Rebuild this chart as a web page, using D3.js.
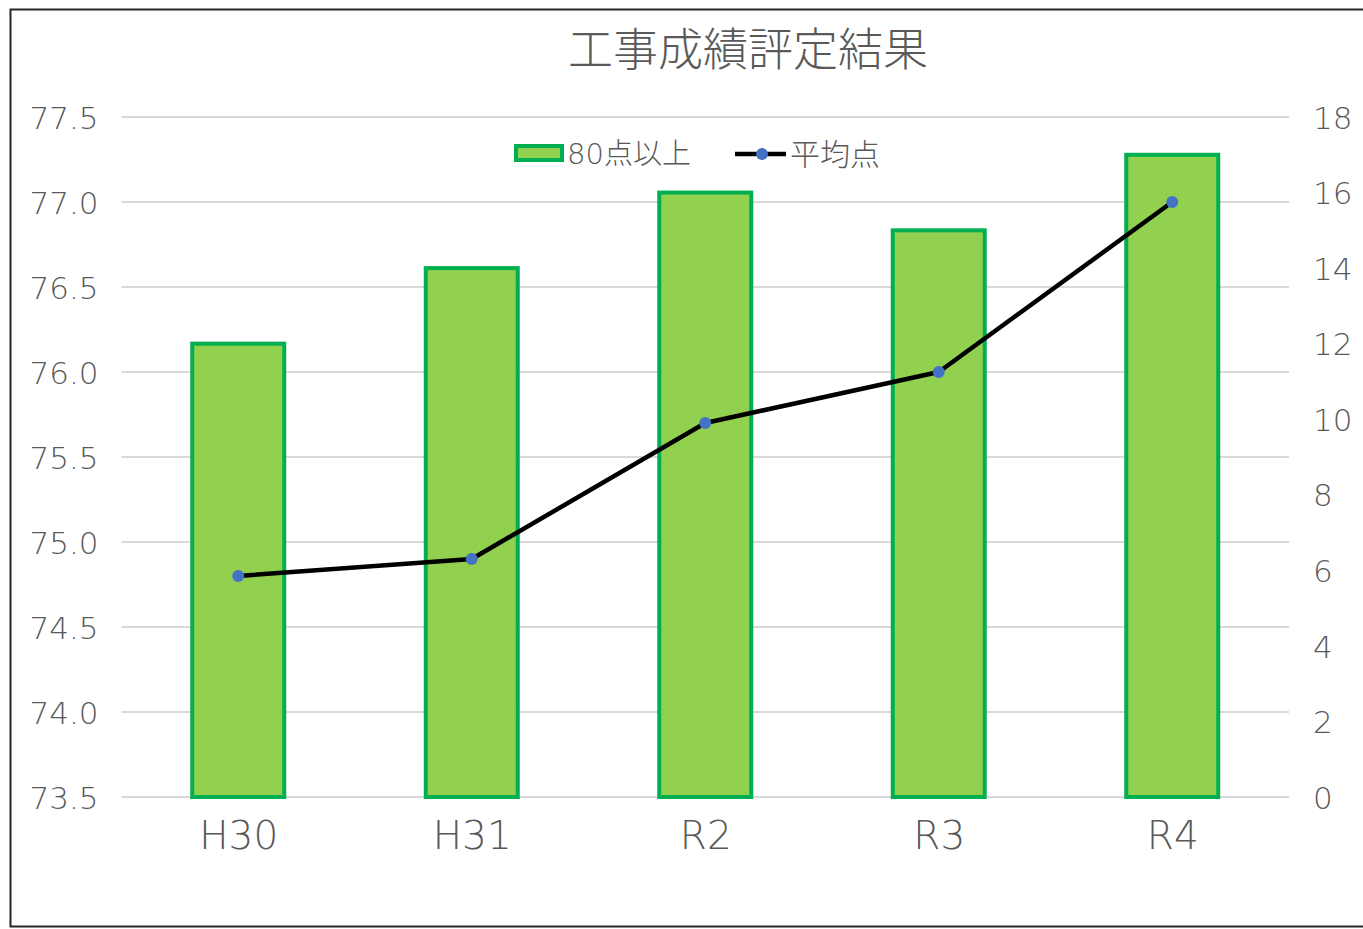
<!DOCTYPE html>
<html>
<head>
<meta charset="utf-8">
<script src="https://cdn.jsdelivr.net/npm/d3@7"></script>
<style>
  body { margin: 0; background: #fff; }
  text { font-family: "DejaVu Sans", "Noto Sans CJK JP", sans-serif; fill: #595959; }
</style>
</head>
<body>
<div id="chart-area"></div>
<script>
// data
const categories = ["H30", "H31", "R2", "R3", "R4"]
const over80 = [12, 14, 16, 15, 17]          // 80点以上 (right axis)
const average = [74.8, 74.9, 75.7, 76.0, 77.0] // 平均点 (left axis)
const leftTicks = [73.5, 74.0, 74.5, 75.0, 75.5, 76.0, 76.5, 77.0, 77.5]
const rightTicks = [0, 2, 4, 6, 8, 10, 12, 14, 16, 18]

const W = 1363, H = 929
const PLOT = { LEFT: 121.5, RIGHT: 1289, TOP: 117, BOTTOM: 797 }

const svg = d3.select("#chart-area").append("svg")
	.attr("width", W)
	.attr("height", H)

// chart frame
svg.append("rect")
	.attr("x", 10.5).attr("y", 9.5)
	.attr("width", 1370).attr("height", 917)
	.attr("fill", "#fff")
	.attr("stroke", "#262626")
	.attr("stroke-width", 2)

// scales
const xc = d3.scalePoint().domain(categories).range([PLOT.LEFT, PLOT.RIGHT]).padding(0.5)
const yL = d3.scaleLinear().domain([73.5, 77.5]).range([PLOT.BOTTOM, PLOT.TOP])
const yR = d3.scaleLinear().domain([0, 18]).range([PLOT.BOTTOM, PLOT.TOP])

// gridlines
svg.append("g")
	.selectAll("line")
	.data(leftTicks)
	.join("line")
	.attr("x1", PLOT.LEFT).attr("x2", PLOT.RIGHT)
	.attr("y1", d => yL(d)).attr("y2", d => yL(d))
	.attr("stroke", "#d9d9d9")
	.attr("stroke-width", 2)

// axes
const leftAxis = svg.append("g")
	.attr("transform", `translate(${PLOT.LEFT - 23}, 0)`)
	.call(d3.axisLeft(yL).tickValues(leftTicks).tickFormat(d3.format(".1f")).tickSize(0))
const rightAxis = svg.append("g")
	.attr("transform", `translate(${PLOT.RIGHT + 24}, 0)`)
	.call(d3.axisRight(yR).tickValues(rightTicks).tickSize(0))
const bottomAxis = svg.append("g")
	.attr("transform", `translate(0, ${PLOT.BOTTOM})`)
	.call(d3.axisBottom(xc).tickSize(0))

;[leftAxis, rightAxis, bottomAxis].forEach(a => {
	a.select(".domain").remove()
	a.selectAll("text")
		.attr("font-size", "31px")
		.attr("font-family", "\"DejaVu Sans\", sans-serif")
		.attr("font-weight", 300)
		.attr("fill", "#595959")
		.attr("dy", "0.36em")
})
leftAxis.selectAll("text").attr("x", 0)
rightAxis.selectAll("text").attr("x", 0)
bottomAxis.selectAll("text").attr("y", 38).attr("font-size", "39px")

// bars
const barW = 92
svg.append("g")
	.selectAll("rect")
	.data(categories)
	.join("rect")
	.attr("x", d => xc(d) - barW / 2)
	.attr("y", (d, i) => yR(over80[i]))
	.attr("width", barW)
	.attr("height", (d, i) => yR(0) - yR(over80[i]))
	.attr("fill", "#92d050")
	.attr("stroke", "#00b050")
	.attr("stroke-width", 4)

// line
const line = d3.line()
	.x((d, i) => xc(categories[i]))
	.y(d => yL(d))
svg.append("path")
	.attr("d", line(average))
	.attr("fill", "none")
	.attr("stroke", "#000")
	.attr("stroke-width", 4.5)
	.attr("stroke-linejoin", "round")
svg.append("g")
	.selectAll("circle")
	.data(average)
	.join("circle")
	.attr("cx", (d, i) => xc(categories[i]))
	.attr("cy", d => yL(d))
	.attr("r", 6)
	.attr("fill", "#4472c4")

// title
svg.append("text")
	.attr("x", 748)
	.attr("y", 54)
	.attr("text-anchor", "middle")
	.attr("dominant-baseline", "middle")
	.attr("font-family", "\"Noto Sans CJK JP\", sans-serif")
	.attr("font-size", "45px")
	.attr("font-weight", 300)
	.text("工事成績評定結果")

// legend
const lg = svg.append("g")
lg.append("rect")
	.attr("x", 516).attr("y", 146)
	.attr("width", 46).attr("height", 14)
	.attr("fill", "#92d050")
	.attr("stroke", "#00b050")
	.attr("stroke-width", 4)
lg.append("text")
	.attr("x", 567).attr("y", 156)
	.attr("dominant-baseline", "middle")
	.attr("font-size", "29px")
	.attr("font-weight", 300)
	.text("80点以上")
lg.append("line")
	.attr("x1", 735).attr("x2", 786)
	.attr("y1", 154).attr("y2", 154)
	.attr("stroke", "#000")
	.attr("stroke-width", 4.5)
lg.append("circle")
	.attr("cx", 762).attr("cy", 154).attr("r", 6)
	.attr("fill", "#4472c4")
lg.append("text")
	.attr("x", 790).attr("y", 156)
	.attr("dominant-baseline", "middle")
	.attr("font-family", "\"Noto Sans CJK JP\", sans-serif")
	.attr("font-size", "30px")
	.attr("font-weight", 300)
	.text("平均点")
</script>
</body>
</html>
